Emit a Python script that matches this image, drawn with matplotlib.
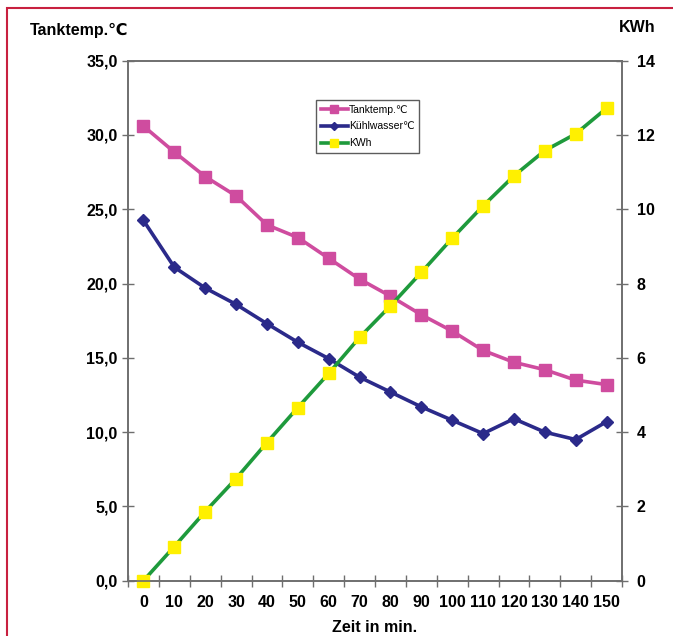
import matplotlib
matplotlib.use("Agg")
import matplotlib.pyplot as plt
from matplotlib.patches import Rectangle
from matplotlib.ticker import FixedLocator, FuncFormatter

minutes = [0, 10, 20, 30, 40, 50, 60, 70, 80, 90, 100, 110, 120, 130, 140, 150]
tanktemp = [30.6, 28.85, 27.2, 25.9, 23.95, 23.1, 21.7, 20.3, 19.15, 17.9, 16.8, 15.5, 14.7, 14.2, 13.5, 13.2]
kuehlwasser = [24.25, 21.1, 19.7, 18.6, 17.3, 16.05, 14.95, 13.7, 12.7, 11.7, 10.8, 9.9, 10.9, 10.0, 9.5, 10.7]
kwh = [0.0, 0.92, 1.86, 2.75, 3.72, 4.66, 5.58, 6.55, 7.4, 8.3, 9.22, 10.09, 10.9, 11.58, 12.03, 12.72]
left_ticks = [0, 5, 10, 15, 20, 25, 30, 35]
right_ticks = [0, 2, 4, 6, 8, 10, 12, 14]

plt.rcParams['font.family'] = ['Liberation Sans Narrow', 'Liberation Sans', 'DejaVu Sans']

fig = plt.figure(figsize=(6.73, 6.36), dpi=100)
ax = fig.add_axes([128/673, 1-580.7/636, (622-128)/673, (580.7-60.7)/636])
ax2 = ax.twinx()

pink = '#CF4C9F'
navy = '#2B2A8A'
green = '#1E9A3C'
yellow = '#FFF000'
axcol = '#6E6E6E'

x = list(range(len(minutes)))
l1, = ax.plot(x, tanktemp, color=pink, lw=2.6, marker='s', ms=8.5, mfc=pink, mec=pink, label='Tanktemp.℃', clip_on=False)
l2, = ax.plot(x, kuehlwasser, color=navy, lw=2.6, marker='D', ms=6, mfc=navy, mec=navy, label='Kühlwasser℃', clip_on=False)
l3, = ax2.plot(x, kwh, color=green, lw=2.6, marker='s', ms=9, mfc=yellow, mec=yellow, label='KWh', clip_on=False)

ax.set_xlim(-0.5, len(minutes) - 0.5)
ax.set_ylim(0, 35)
ax2.set_ylim(0, 14)

ax.xaxis.set_major_locator(FixedLocator(x))
ax.set_xticklabels([str(m) for m in minutes])
ax.xaxis.set_minor_locator(FixedLocator([i - 0.5 for i in range(len(minutes) + 1)]))
ax.tick_params(axis='x', which='major', length=0, pad=10)
ax.tick_params(axis='x', which='minor', direction='inout', length=9, width=1, color=axcol)

ax.set_yticks(left_ticks)
ax.yaxis.set_major_formatter(FuncFormatter(lambda v, p: f"{v:.1f}".replace('.', ',')))
ax.tick_params(axis='y', direction='inout', length=9, width=1, color=axcol, pad=3)
ax2.set_yticks(right_ticks)
ax2.tick_params(axis='y', direction='inout', length=9, width=1, color=axcol, pad=6)

for a in (ax, ax2):
    for s in a.spines.values():
        s.set_color(axcol)
        s.set_linewidth(1.2)
    for lab in a.get_xticklabels() + a.get_yticklabels():
        lab.set_fontweight('bold')
        lab.set_fontsize(11.5)
ax.spines['bottom'].set_zorder(0)

fig.text(30/673, 1-30/636, 'Tanktemp.℃', fontsize=11.5, fontweight='bold', va='center', ha='left')
fig.text(637/673, 1-27/636, 'KWh', fontsize=11.5, fontweight='bold', va='center', ha='center')
fig.text(375/673, 1-628/636, 'Zeit in min.', fontsize=11.5, fontweight='bold', va='center', ha='center')

leg = ax2.legend(handles=[l1, l2, l3], loc='upper left', bbox_to_anchor=((316-128)/494, (580.7-100)/520),
                 fontsize=7.5, frameon=True, fancybox=False, edgecolor='#333333', handlelength=2.6,
                 borderpad=0.45, labelspacing=0.65, handletextpad=0.1, markerscale=0.7, borderaxespad=0)
leg.get_frame().set_linewidth(1.0)

fig.patches.append(Rectangle((7/673, -0.1), 1.2, 1.1 - 8/636, transform=fig.transFigure,
                             fill=False, edgecolor='#C8203F', lw=1.5))

fig.savefig('out.png', dpi=100)
